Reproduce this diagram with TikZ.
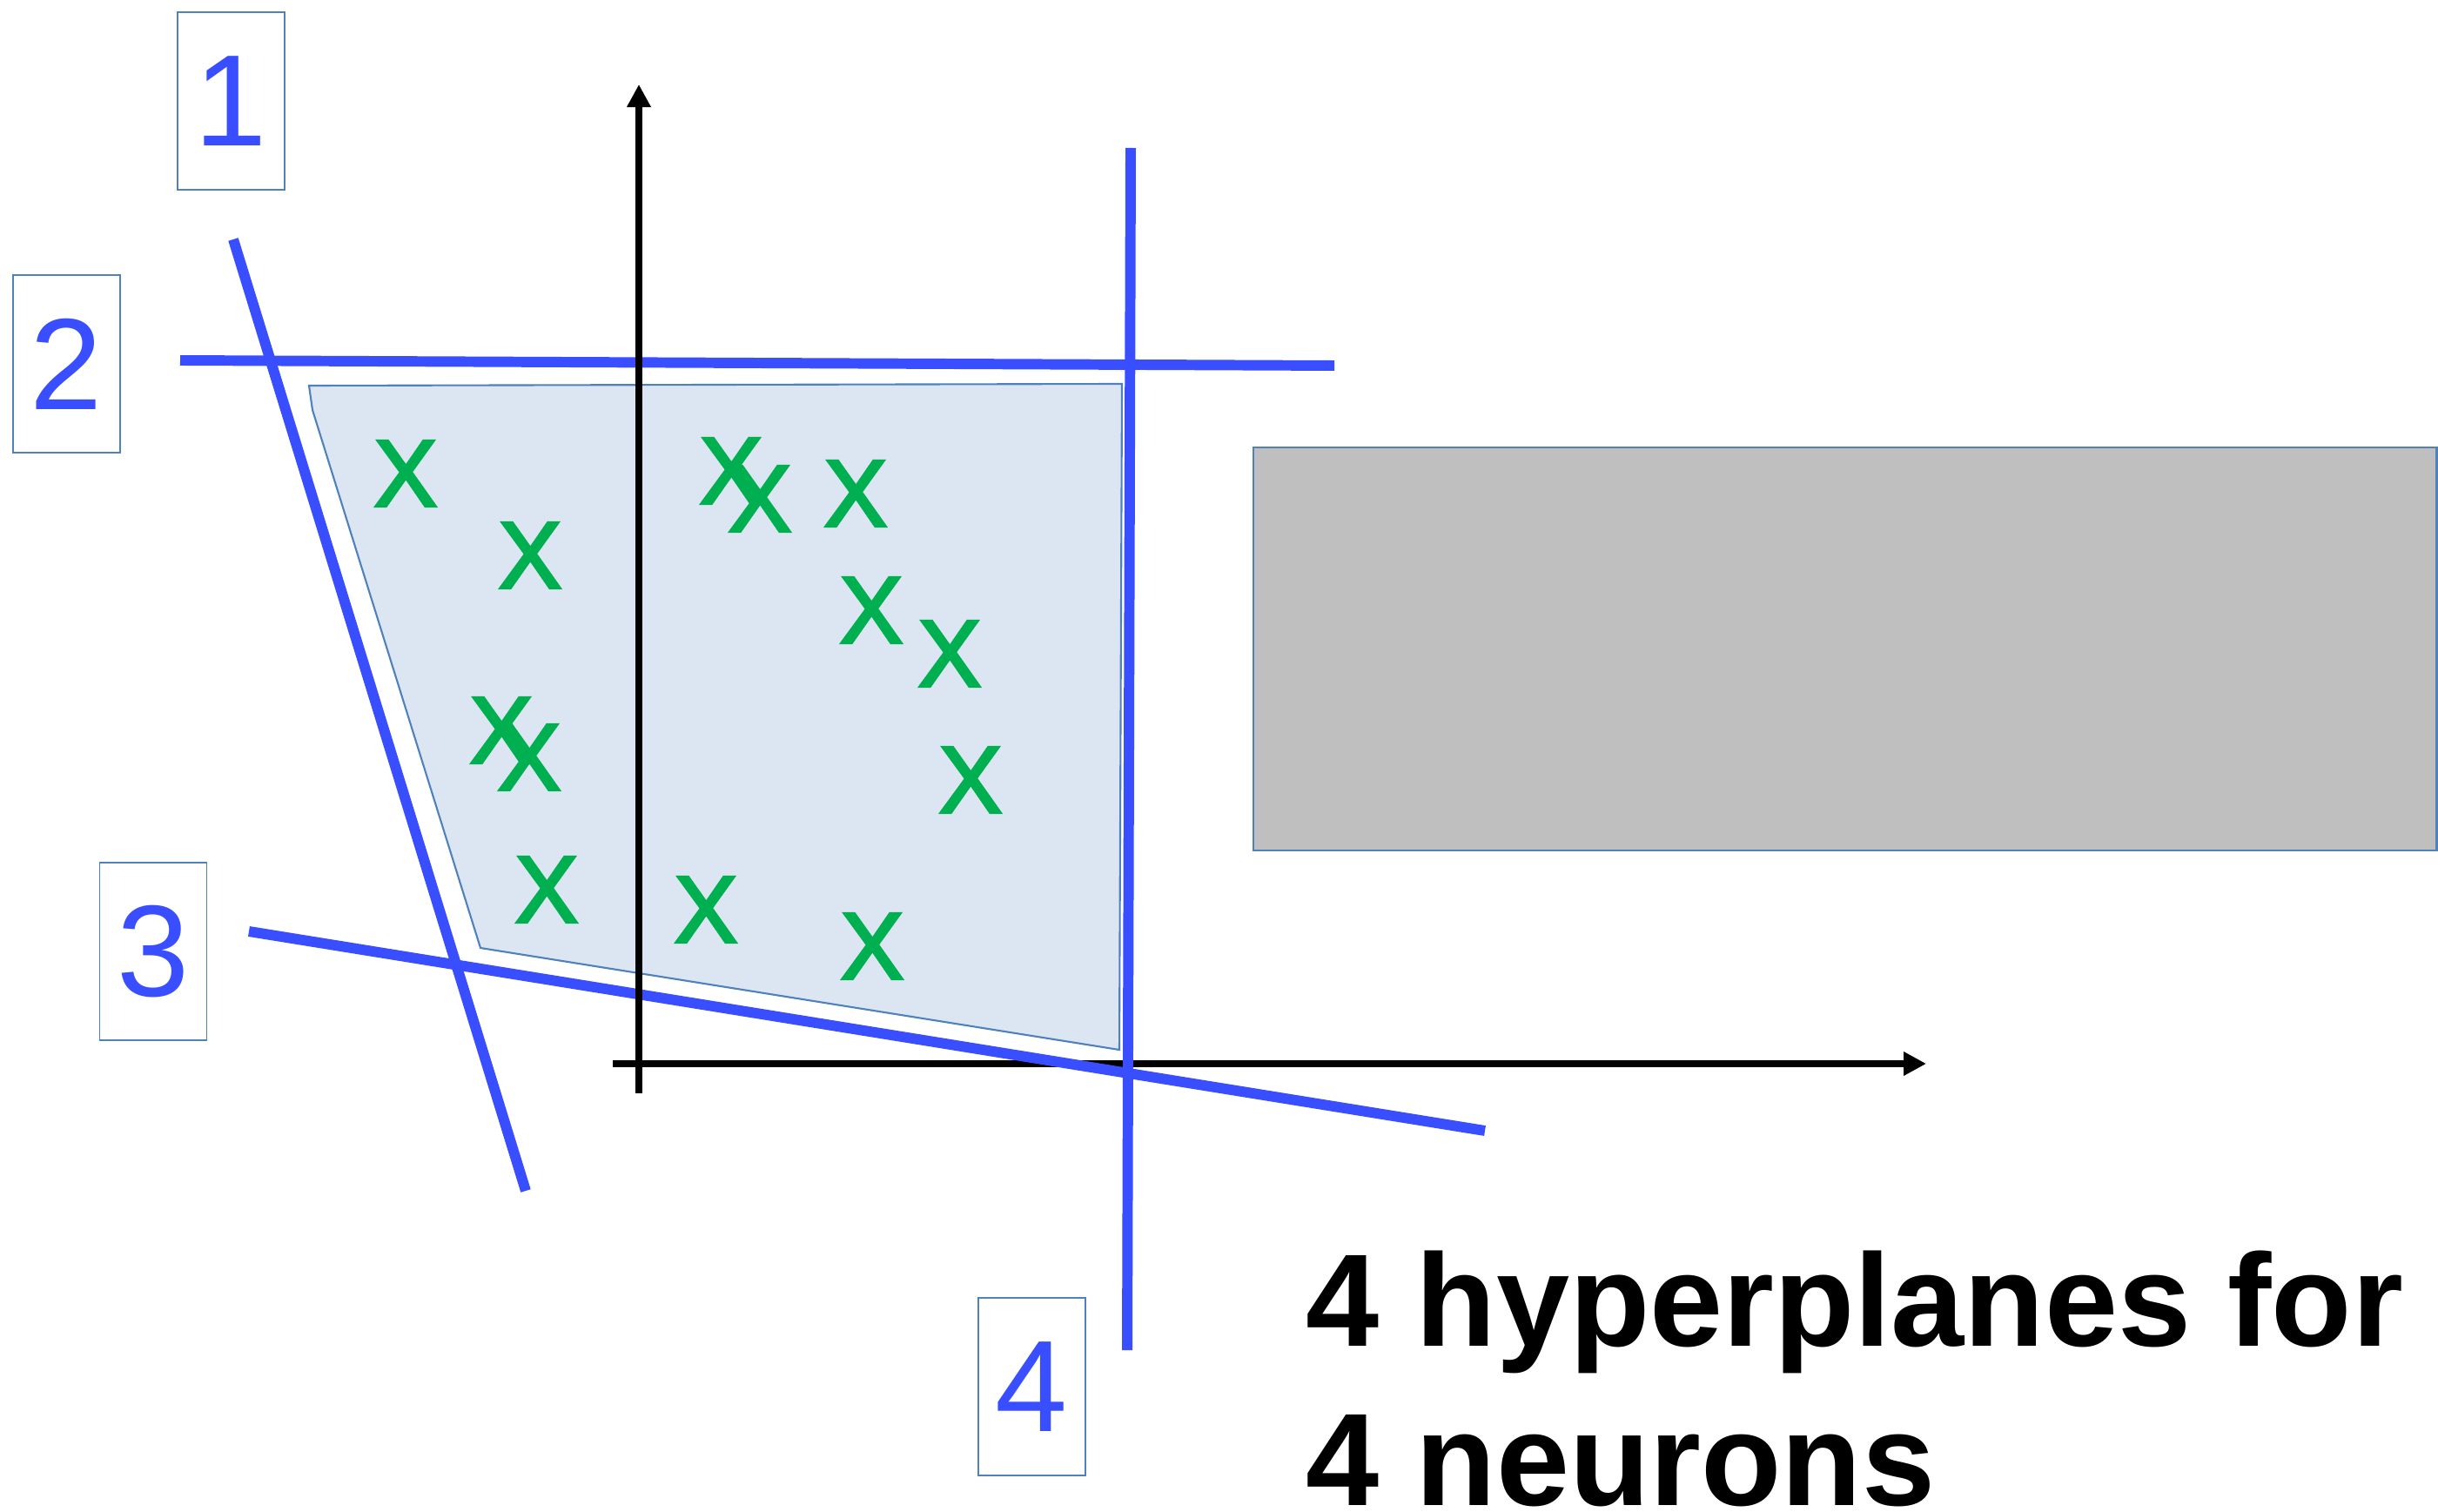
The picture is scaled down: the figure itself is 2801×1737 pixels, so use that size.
\documentclass[tikz,border=0pt]{standalone}
\usepackage{fontspec}
\setmainfont{Liberation Sans}
\newfontfamily\markfont{Liberation Sans}[FakeBold=3]
\usetikzlibrary{arrows.meta}

\definecolor{planeblue}{RGB}{56,78,255}
\definecolor{edgeblue}{RGB}{79,129,189}
\definecolor{regionfill}{RGB}{220,230,242}
\definecolor{ptgreen}{RGB}{0,176,80}
\definecolor{panelgray}{RGB}{191,191,191}

\begin{document}
\begin{tikzpicture}[
    x=0.01cm, y=-0.01cm,
    plane/.style={draw=planeblue, line width=3.4pt},
    tag/.style={draw=edgeblue, line width=0.5pt, minimum width=1.23cm, minimum height=2.04cm, inner sep=0pt, text=planeblue, font=\fontsize{42.5}{50}\selectfont},
    pt/.style={text=ptgreen, inner sep=0pt, font=\markfont\fontsize{31}{31}\selectfont},
    axis/.style={-{Triangle[length=0.26cm, width=0.26cm]}, line width=2.2pt},
    panel/.style={draw=edgeblue, line width=0.6pt, fill=panelgray, minimum width=13.59cm, minimum height=4.63cm, inner sep=0pt},
    caption/.style={align=left, inner sep=0pt, font=\fontsize{43}{51.8}\selectfont\bfseries}
]
\useasboundingbox (0,0) rectangle (2801,1737);

% feasible region
\filldraw[fill=regionfill, draw=edgeblue, line width=0.6pt]
    (355,443) -- (1289,441) -- (1286,1206) -- (552,1089) -- (359,471) -- cycle;

\coordinate (xl) at (704,1222);
\coordinate (xr) at (2213,1222);
\coordinate (yb) at (734,1256);
\coordinate (yt) at (734,97);
\draw[axis] (xl) -- (xr);

% hyperplanes
\coordinate (p1a) at (268,275);
\coordinate (p1b) at (604,1368);
\coordinate (p2a) at (207,414);
\coordinate (p2b) at (1533,420);
\coordinate (p3a) at (286,1070);
\coordinate (p3b) at (1706,1299);
\coordinate (p4a) at (1299,170);
\coordinate (p4b) at (1295,1551);
\draw[plane] (p1a) -- (p1b);
\draw[plane] (p2a) -- (p2b);
\draw[plane] (p3a) -- (p3b);
\draw[plane] (p4a) -- (p4b);

\draw[axis] (yb) -- (yt);

\node[tag] (t1) at (265.5,116) {1};
\node[tag] (t2) at (76.5,418) {2};
\node[tag] (t3) at (176,1093) {3};
\node[tag] (t4) at (1185.5,1593) {4};

% data points
\foreach \px/\py [count=\i] in {466/544, 609/638, 840/541, 873/573, 983/567, 1001/701, 1091/751, 1115/896, 576/839, 608/870, 628/1022, 811/1045, 1002/1087}
    \node[pt] (x\i) at (\px,\py) {X};

\node[panel] (panel) at (2119.5,745.5) {};

\node[caption, anchor=base west] (note) at (1500,1729) {4 hyperplanes for\\4 neurons};
\end{tikzpicture}
\end{document}
